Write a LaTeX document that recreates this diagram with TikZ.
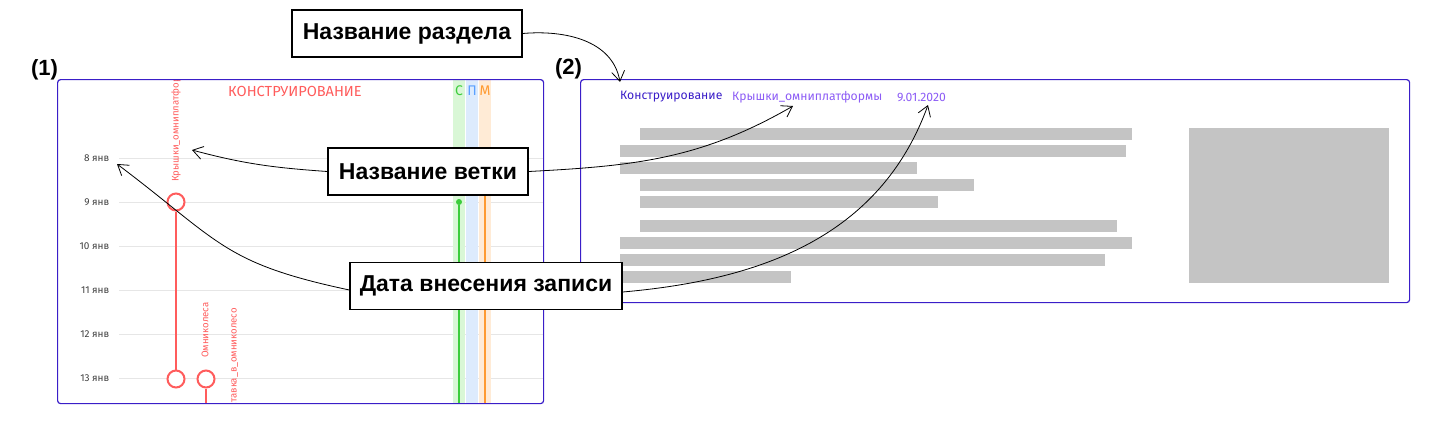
\documentclass[tikz,border=0pt]{standalone}
\usepackage{fontspec}
\setmainfont{Fira Sans}
\newfontfamily\annfont{Liberation Sans}
\usetikzlibrary{arrows.meta}
\definecolor{panelblue}{RGB}{58,30,200}
\definecolor{lightpurple}{RGB}{140,92,245}
\definecolor{redline}{RGB}{255,92,92}
\definecolor{gridgray}{RGB}{230,230,230}
\definecolor{barsgray}{RGB}{196,196,196}
\definecolor{greenline}{RGB}{60,205,60}
\definecolor{greenband}{RGB}{217,247,214}
\definecolor{blueband}{RGB}{221,235,253}
\definecolor{blueletter}{RGB}{90,160,255}
\definecolor{orangeline}{RGB}{255,154,48}
\definecolor{orangeband}{RGB}{255,235,214}
\newcommand{\pxsize}[1]{\fontsize{#1pt}{#1pt}\selectfont}
\tikzset{
  panel/.style={draw=panelblue, line width=1.2pt, rounded corners=3pt, inner sep=0pt, anchor=north west},
  annbox/.style={draw=black, line width=1.2pt, fill=white, font=\annfont\bfseries\pxsize{23}, inner sep=0pt, minimum height=47pt},
  conn/.style={-{Straight Barb[length=10pt,width=13pt]}, line width=0.8pt, black},
  datelbl/.style={anchor=east, font=\pxsize{10}, text=black!75, inner sep=0pt},
  gridln/.style={draw=gridgray, line width=0.8pt},
  branchcirc/.style={circle, draw=redline, line width=2pt, fill=white, minimum size=17pt, inner sep=0pt},
  branchln/.style={draw=redline, line width=2pt},
  rotlbl/.style={rotate=90, font=\pxsize{9.6}, text=redline, inner sep=0pt},
  bandletter/.style={font=\pxsize{14}, inner sep=0pt},
  hdrtext/.style={anchor=west, font=\pxsize{12.2}, inner sep=0pt},
  bar/.style={fill=barsgray},
  numlbl/.style={font=\annfont\bfseries\pxsize{22}, inner sep=0pt}
}
\begin{document}
\begin{tikzpicture}[x=1pt,y=1pt]
\useasboundingbox (0,0) rectangle (1456,-432);

% ---------- left panel (1) ----------
\begin{scope}
\clip[rounded corners=3pt] (57,-79) rectangle (543,-403);
\foreach \yy/\lbl in {158/8 янв, 202/9 янв, 246/10 янв, 290/11 янв, 334/12 янв, 378/13 янв}{
  \draw[gridln] (119,-\yy) -- (543,-\yy);
  \node[datelbl] at (109.5,-\yy) {\lbl};
}
\fill[greenband] (453,-79) rectangle (465,-403);
\fill[blueband] (466,-79) rectangle (478,-403);
\fill[orangeband] (479,-79) rectangle (491,-403);
\node[bandletter, text=greenline] (lc) at (459,-91) {С};
\node[bandletter, text=blueletter] (lp) at (472,-91) {П};
\node[bandletter, text=orangeline] (lm) at (485,-91) {М};
\node[circle, fill=greenline, inner sep=0pt, minimum size=6pt] (gdot) at (459,-202) {};
\coordinate (gend) at (459,-404);
\draw[draw=greenline, line width=2pt] (gdot) -- (gend);
\coordinate (ostart) at (485,-180);
\coordinate (oend) at (485,-404);
\draw[draw=orangeline, line width=2pt] (ostart) -- (oend);
\node[font=\pxsize{14.6}, text=redline, inner sep=0pt] (hdr) at (295,-91) {КОНСТРУИРОВАНИЕ};
\node[branchcirc] (c1) at (176,-202) {};
\node[branchcirc] (c2) at (176,-379) {};
\node[branchcirc] (c3) at (206,-379) {};
\coordinate (c3end) at (206,-404);
\draw[branchln] (c1) -- (c2);
\draw[branchln] (c3) -- (c3end);
\node[rotlbl, anchor=west] (b1) at (176,-182) {Крышки\_омниплатформы};
\node[rotlbl, anchor=west] (b2) at (205,-358) {Омниколеса};
\node[rotlbl, anchor=east] (b3) at (234,-308) {Вставка\_в\_омниколесо};
\end{scope}
\node[panel, minimum width=486pt, minimum height=324pt] (p1) at (57,-79) {};
\node[numlbl] (n1) at (44.5,-70) {(1)};

% ---------- right panel (2) ----------
\node[panel, minimum width=829pt, minimum height=223pt] (p2) at (580,-79) {};
\node[numlbl] (n2) at (568.5,-69) {(2)};
\node[hdrtext, text=panelblue] (rsec) at (620,-97) {Конструирование};
\node[hdrtext, text=lightpurple] (rbr) at (732,-97) {Крышки\_омниплатформы};
\node[hdrtext, text=lightpurple] (rdate) at (897,-97) {9.01.2020};
\fill[bar] (640,-128) rectangle (1132,-140);
\fill[bar] (620,-145) rectangle (1126,-157);
\fill[bar] (620,-162) rectangle (917,-174);
\fill[bar] (640,-179) rectangle (974,-191);
\fill[bar] (640,-196) rectangle (938,-208);
\fill[bar] (640,-220) rectangle (1117,-232);
\fill[bar] (620,-237) rectangle (1132,-249);
\fill[bar] (620,-254) rectangle (1105,-266);
\fill[bar] (620,-271) rectangle (791,-283);
\fill[bar] (1189,-128) rectangle (1389,-283);

% ---------- annotations ----------
\coordinate (tsec) at (620,-82);
\coordinate (tbrL) at (192,-150);
\coordinate (tbrR) at (793,-106);
\coordinate (tdtL) at (117,-164);
\coordinate (tdtR) at (928,-105);

\node[annbox, minimum width=230pt] (sec) at (407,-33.5) {Название раздела};
\node[annbox, minimum width=200pt] (brn) at (428,-171.5) {Название ветки};
\node[annbox, minimum width=272pt] (date) at (486,-286) {Дата внесения записи};

\draw[conn] (sec.east) to[out=5,in=100] (tsec);
\draw[conn] (brn.west) to[out=176,in=-15] (tbrL);
\draw[conn] (brn.east) to[out=3,in=-150] (tbrR);
\draw[conn] ([yshift=-4pt]date.west) to[out=168,in=-37,looseness=1.25] (tdtL);
\draw[conn] ([yshift=-6pt]date.east) to[out=5,in=-110] (tdtR);
\end{tikzpicture}
\end{document}
